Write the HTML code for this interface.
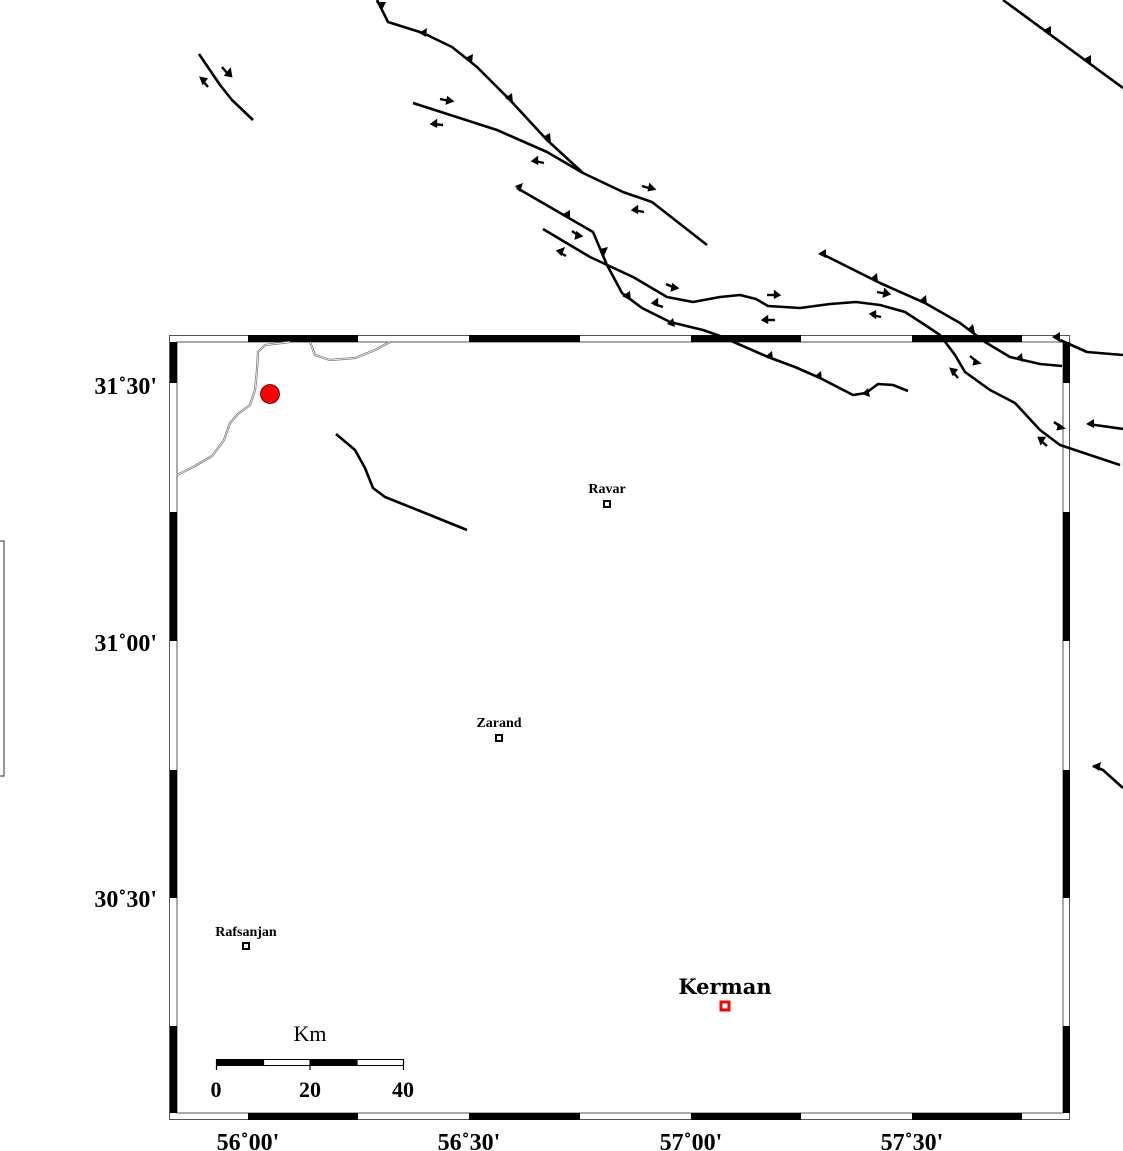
<!DOCTYPE html>
<html><head><meta charset="utf-8"><style>
html,body{margin:0;padding:0;background:#fff;}
svg{display:block;}
text{font-family:"Liberation Serif",serif;font-weight:bold;fill:#000;}
</style></head><body>
<svg width="1123" height="1151" viewBox="0 0 1123 1151" xmlns="http://www.w3.org/2000/svg">
<!-- left stray box -->
<path d="M0,541 H4 V776 H0" fill="none" stroke="#555" stroke-width="1.2"/>

<!-- frame -->
<rect x="169.5" y="335.5" width="900" height="784" fill="none" stroke="#555" stroke-width="1"/>
<rect x="177" y="342" width="886" height="771" fill="none" stroke="#555" stroke-width="1"/>
<g fill="#000">
<rect x="248" y="335" width="110" height="7"/><rect x="469" y="335" width="111" height="7"/>
<rect x="691" y="335" width="110" height="7"/><rect x="912" y="335" width="110" height="7"/>
<rect x="248" y="1113" width="110" height="7"/><rect x="469" y="1113" width="111" height="7"/>
<rect x="691" y="1113" width="110" height="7"/><rect x="912" y="1113" width="110" height="7"/>
<rect x="170" y="342" width="7" height="41"/><rect x="170" y="512" width="7" height="129"/>
<rect x="170" y="770" width="7" height="128"/><rect x="170" y="1026" width="7" height="87"/>
<rect x="1063" y="342" width="7" height="41"/><rect x="1063" y="512" width="7" height="129"/>
<rect x="1063" y="770" width="7" height="128"/><rect x="1063" y="1026" width="7" height="87"/>
</g>

<!-- rivers -->
<g fill="none" stroke="#777" stroke-width="2.2">
<path d="M177,475 L195,466 L212,456 L224,440 L230,423 L238,414 L250,405 L255,390 L257,370 L258,352 L265,345 L290,342"/>
<path d="M310,342 L315,355 L330,360 L355,358 L375,350 L390,342"/>
</g>
<g fill="none" stroke="#fff" stroke-width="0.7">
<path d="M177,475 L195,466 L212,456 L224,440 L230,423 L238,414 L250,405 L255,390 L257,370 L258,352 L265,345 L290,342"/>
<path d="M310,342 L315,355 L330,360 L355,358 L375,350 L390,342"/>
</g>

<!-- faults -->
<g fill="none" stroke="#000" stroke-width="2.6" stroke-linejoin="round">
<path d="M377,0 L388,22 L423,33 L452,47 L477,67 L510,100 L547,140 L583,173"/>
<path d="M413,103 L497,130 L547,152 L583,173 L623,192 L652,202 L707,245"/>
<path d="M517,188 L593,232 L607,265 L622,293 L642,308 L670,322 L703,330 L720,336 L768,357 L795,367 L820,378 L853,395 L866,393 L878,384 L893,385 L908,391"/>
<path d="M543,229 L590,257 L633,277 L667,297 L693,302 L720,297 L740,295 L756,299 L768,306 L800,308 L830,304 L856,302 L880,305 L905,312 L925,325 L940,335 L955,355 L965,372 L990,390 L1015,403 L1040,430 L1060,445 L1090,455 L1120,465"/>
<path d="M820,253 L880,283 L925,303 L960,323 L985,342 L1010,357 L1040,364 L1062,366"/>
<path d="M1060,340 L1087,352 L1123,355"/>
<path d="M1003,0 L1123,88"/>
<path d="M199,54 L220,85 L232,100 L253,120"/>
<path d="M336,434 L355,450 L365,468 L373,488 L385,497 L430,515 L467,530"/>
<path d="M1088,424 L1123,429"/>
<path d="M1093,766 L1103,770 L1123,788"/>
</g>

<!-- thrust teeth -->
<g fill="#000">
<polygon points="376,2 386,2 382,10"/>
<polygon points="419,33 427,28 426,37"/>
<polygon points="465,58 473,54 472,63"/>
<polygon points="505,98 512,93 513,103"/>
<polygon points="543,137 550,133 551,143"/>
<polygon points="515,186 523,183 520,192"/>
<polygon points="563,214 570,210 570,219"/>
<polygon points="600,249 608,247 604,256"/>
<polygon points="622,296 630,291 631,301"/>
<polygon points="667,324 673,318 675,327"/>
<polygon points="766,356 772,351 773,360"/>
<polygon points="815,376 821,371 822,380"/>
<polygon points="862,394 868,388 870,397"/>
<polygon points="818,254 826,249 826,258"/>
<polygon points="871,278 877,273 878,283"/>
<polygon points="920,300 926,295 927,305"/>
<polygon points="967,330 973,324 975,333"/>
<polygon points="1016,358 1022,353 1023,362"/>
<polygon points="1052,337 1060,332 1060,342"/>
<polygon points="1086,424 1094,419 1094,428"/>
<polygon points="1092,766 1101,762 1099,771"/>
<polygon points="1044,30 1051,26 1051,35"/>
<polygon points="1084,59 1091,55 1091,64"/>
</g>

<!-- strike-slip half arrows -->
<g stroke="#000" stroke-width="2.4" fill="#000">
<path d="M222,67 L228,74"/><polygon points="226,75 230,70 231,76"/>
<path d="M202,80 L208,87"/><polygon points="201,78 206,79 203,83"/>
<path d="M440,99 L450,101"/><polygon points="448,98 452,101 447,103"/>
<path d="M433,124 L443,125"/><polygon points="432,124 436,121 436,126"/>
<path d="M535,161 L544,163"/><polygon points="533,161 537,158 537,163"/>
<path d="M642,186 L652,189"/><polygon points="650,185 654,189 649,190"/>
<path d="M634,210 L644,212"/><polygon points="633,210 637,207 637,212"/>
<path d="M572,231 L579,236"/><polygon points="577,233 581,236 576,238"/>
<path d="M559,252 L566,256"/><polygon points="558,251 563,249 561,254"/>
<path d="M666,284 L675,288"/><polygon points="673,285 677,288 672,290"/>
<path d="M654,304 L663,307"/><polygon points="653,303 657,300 657,305"/>
<path d="M767,295 L777,295"/><polygon points="775,292 779,295 775,297"/>
<path d="M765,320 L775,320"/><polygon points="763,320 767,317 767,322"/>
<path d="M877,292 L887,294"/><polygon points="885,290 889,294 884,296"/>
<path d="M872,315 L881,317"/><polygon points="871,314 875,312 875,317"/>
<path d="M970,356 L977,362"/><polygon points="975,360 979,363 974,364"/>
<path d="M952,371 L958,378"/><polygon points="951,369 956,370 953,374"/>
<path d="M1054,422 L1061,427"/><polygon points="1059,425 1063,428 1058,429"/>
<path d="M1040,440 L1047,446"/><polygon points="1039,438 1044,438 1041,443"/>
</g>

<!-- epicenter -->
<circle cx="270" cy="394" r="9.5" fill="#f00" stroke="#400" stroke-width="0.8"/>

<!-- cities -->
<rect x="604" y="501" width="6" height="6" fill="#fff" stroke="#000" stroke-width="2"/>
<rect x="496" y="735" width="6" height="6" fill="#fff" stroke="#000" stroke-width="2"/>
<rect x="243" y="943" width="6" height="6" fill="#fff" stroke="#000" stroke-width="2"/>
<rect x="721" y="1002" width="8" height="8" fill="#fff" stroke="#f00" stroke-width="3"/>
<text x="607" y="493" font-size="14" text-anchor="middle">Ravar</text>
<text x="499" y="727" font-size="14" text-anchor="middle">Zarand</text>
<text x="246" y="936" font-size="14" text-anchor="middle">Rafsanjan</text>
<text x="725" y="994" font-size="21" text-anchor="middle" style="font-family:'DejaVu Serif',serif">Kerman</text>

<!-- lat labels -->
<text x="157" y="394" font-size="24" text-anchor="end">31˚30'</text>
<text x="157" y="651" font-size="24" text-anchor="end">31˚00'</text>
<text x="157" y="907" font-size="24" text-anchor="end">30˚30'</text>
<!-- lon labels -->
<text x="248" y="1150" font-size="24" text-anchor="middle">56˚00'</text>
<text x="469" y="1150" font-size="24" text-anchor="middle">56˚30'</text>
<text x="691" y="1150" font-size="24" text-anchor="middle">57˚00'</text>
<text x="912" y="1150" font-size="24" text-anchor="middle">57˚30'</text>

<!-- scale bar -->
<text x="310" y="1041" font-size="22" text-anchor="middle" style="font-weight:normal">Km</text>
<rect x="216.5" y="1059.5" width="187" height="6" fill="#fff" stroke="#000" stroke-width="1"/>
<rect x="216.5" y="1059.5" width="47" height="6" fill="#000"/>
<rect x="310" y="1059.5" width="47" height="6" fill="#000"/>
<g stroke="#000" stroke-width="1.2">
<path d="M216.5,1059 V1070 M263.5,1059 V1066 M310,1059 V1070 M357,1059 V1066 M403.5,1059 V1070"/>
</g>
<text x="216" y="1097" font-size="22" text-anchor="middle">0</text>
<text x="310" y="1097" font-size="22" text-anchor="middle">20</text>
<text x="403" y="1097" font-size="22" text-anchor="middle">40</text>
</svg>
</body></html>
